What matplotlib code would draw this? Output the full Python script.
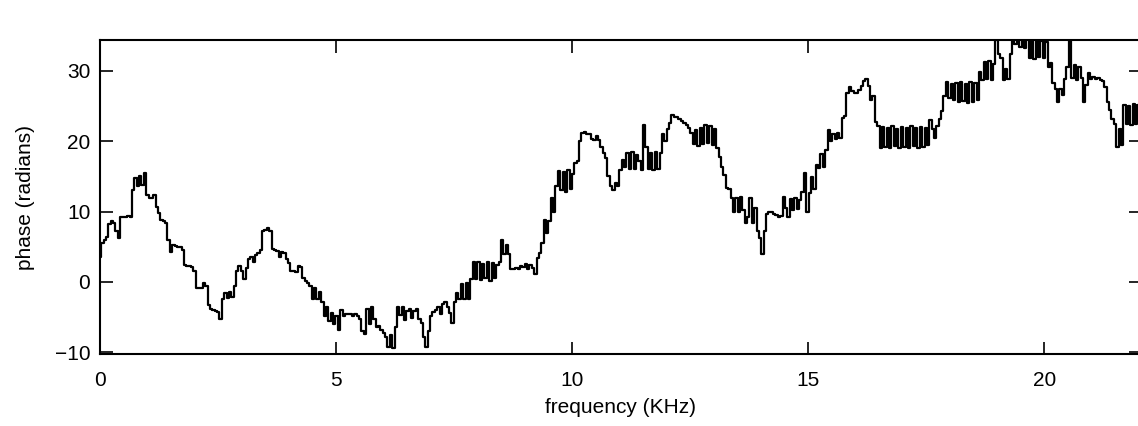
import numpy as np
import matplotlib
matplotlib.use("Agg")
import matplotlib.pyplot as plt

# phase values, one every 0.05 KHz (0 .. 22.05 KHz)
phase_0_5 = [
    3.5, 5.5, 6.0, 6.4, 8.3, 8.7, 8.4, 7.3, 6.3, 9.2, 9.3, 9.3, 9.4, 9.3, 13.0, 14.8, 13.6, 15.0, 13.8, 15.5,
    12.3, 12.0, 11.9, 12.4, 10.6, 9.8, 8.8, 8.6, 8.4, 6.0, 4.2, 5.2, 5.1, 5.0, 4.9, 4.6, 2.4, 2.2, 2.3, 2.1,
    1.6, -0.8, -0.9, -0.9, -0.2, -0.6, -3.3, -3.8, -4.0, -4.1, -4.3, -5.3, -2.4, -1.6, -2.3, -1.5, -2.2, -0.6, 1.5, 2.2,
    1.5, 0.4, 2.0, 3.3, 3.6, 2.8, 3.8, 4.1, 4.5, 7.3, 7.4, 7.6, 7.2, 4.7, 4.6, 4.4, 3.5, 4.3, 4.1, 3.3,
    2.7, 1.6, 1.5, 1.4, 2.2, 2.1, 0.6, 0.1, -0.2, -0.6, -2.4, -0.9, -2.5, -1.4, -2.8, -4.8, -3.6, -5.6, -4.4, -6.0,
]
phase_5_10 = [
    -4.8, -6.8, -4.0, -4.8, -4.5, -4.6, -4.5, -4.9, -4.6, -4.9, -5.3, -7.0, -7.4, -3.9, -6.0, -3.6, -5.3, -6.4, -6.2, -6.9,
    -7.2, -7.8, -9.2, -7.6, -9.4, -6.4, -3.6, -4.7, -3.5, -5.4, -4.1, -3.8, -5.2, -4.2, -3.8, -5.3, -5.9, -7.8, -9.2, -7.0,
    -4.8, -4.3, -4.0, -3.6, -4.6, -3.2, -2.8, -3.6, -4.4, -5.8, -2.8, -1.6, -2.5, -0.3, -2.5, -0.2, -2.4, 0.4, 2.8, 0.4,
    2.9, 0.3, 2.6, 0.5, 2.9, 0.2, 2.7, 0.6, 2.4, 2.9, 5.9, 4.0, 5.2, 4.0, 1.8, 1.9, 2.0, 1.9, 2.3, 2.1,
    2.5, 1.8, 2.4, 2.0, 1.1, 3.4, 4.1, 5.5, 8.8, 7.0, 8.7, 12.0, 10.0, 13.6, 15.8, 13.1, 15.7, 12.8, 15.9, 13.2,
]
phase_10_15 = [
    15.3, 16.9, 17.2, 20.0, 21.2, 21.3, 21.0, 21.1, 20.3, 20.2, 20.7, 20.2, 19.2, 18.4, 17.6, 15.0, 13.6, 13.1, 14.1, 13.6,
    15.9, 17.3, 16.4, 18.4, 16.0, 18.5, 16.1, 18.0, 17.2, 15.9, 22.3, 19.2, 16.0, 18.4, 15.9, 18.5, 16.0, 18.3, 21.1, 20.0,
    21.8, 22.6, 23.7, 23.4, 23.5, 23.1, 22.9, 22.6, 22.3, 21.9, 21.2, 19.6, 21.6, 19.3, 21.9, 19.6, 22.3, 19.8, 22.1, 19.4,
    21.7, 19.0, 17.8, 16.4, 15.2, 13.3, 13.2, 12.0, 9.9, 11.9, 10.0, 12.1, 10.2, 8.4, 9.2, 12.0, 8.4, 10.5, 7.2, 6.3,
    3.9, 7.3, 9.7, 10.0, 9.9, 9.6, 9.5, 9.3, 9.4, 12.1, 10.5, 9.3, 11.8, 10.2, 12.0, 10.4, 11.6, 12.8, 15.5, 10.0,
]
phase_15_20 = [
    12.6, 14.9, 13.2, 16.6, 16.2, 18.2, 16.3, 18.8, 21.6, 20.1, 21.0, 20.3, 21.2, 20.5, 23.3, 23.6, 26.8, 27.7, 27.1, 26.9,
    26.8, 27.3, 27.8, 28.6, 28.9, 27.9, 25.9, 26.5, 22.8, 22.1, 19.1, 22.0, 19.2, 21.9, 19.0, 22.1, 19.3, 21.8, 19.1, 22.0,
    19.2, 21.9, 19.0, 22.1, 19.3, 21.9, 19.0, 22.0, 19.2, 21.9, 19.4, 23.0, 21.8, 20.4, 22.1, 23.2, 24.3, 26.4, 28.4, 26.1,
    28.2, 25.8, 28.3, 25.6, 28.4, 25.7, 28.1, 25.5, 28.4, 25.6, 28.3, 25.8, 29.9, 28.7, 31.3, 28.8, 31.4, 28.7, 31.0, 34.4,
    32.4, 31.8, 28.7, 30.3, 28.8, 32.4, 34.3, 33.9, 34.2, 33.4, 34.3, 33.3, 34.5, 31.8, 34.4, 31.7, 34.5, 32.0, 34.3, 31.9,
]
phase_20_22 = [
    34.1, 30.5, 31.2, 28.3, 27.5, 25.6, 27.4, 26.6, 28.8, 30.5, 34.6, 29.0, 30.9, 28.7, 30.6, 29.0, 25.6, 28.0, 29.7, 28.8,
    29.2, 28.8, 29.0, 28.7, 28.5, 27.7, 25.6, 24.5, 23.1, 22.4, 19.2, 21.8, 19.5, 25.2, 22.4, 25.0, 22.3, 25.3, 22.5, 25.1, 23.8,
]

phase = phase_0_5 + phase_5_10 + phase_10_15 + phase_15_20 + phase_20_22
freq = np.linspace(0, 22.05, len(phase))

x_ticks = [0, 5, 10, 15, 20]
y_ticks = [-10, 0, 10, 20, 30]

plt.rcParams['font.family'] = ['Liberation Sans', 'DejaVu Sans']

fig = plt.figure(figsize=(11.38, 4.26), dpi=100)
ax = fig.add_axes([100 / 1138, 72 / 426, 1041 / 1138, 314 / 426])

ax.plot(freq, phase, color='black', linewidth=1.6, drawstyle='steps-mid')

ax.set_xlim(0, 22.05)
ax.set_ylim(-10.25, 34.4)
ax.set_xticks(x_ticks)
ax.set_yticks(y_ticks)
ax.tick_params(direction='in', length=9, width=1.2, top=True, right=True,
               labelsize=15)
ax.tick_params(axis='x', pad=12)
ax.tick_params(axis='y', pad=7)
for s in ax.spines.values():
    s.set_linewidth(1.5)

ax.set_xlabel('frequency (KHz)', fontsize=15, labelpad=6)
ax.set_ylabel('phase (radians)', fontsize=15, labelpad=14)

fig.savefig('out.png', dpi=100)
